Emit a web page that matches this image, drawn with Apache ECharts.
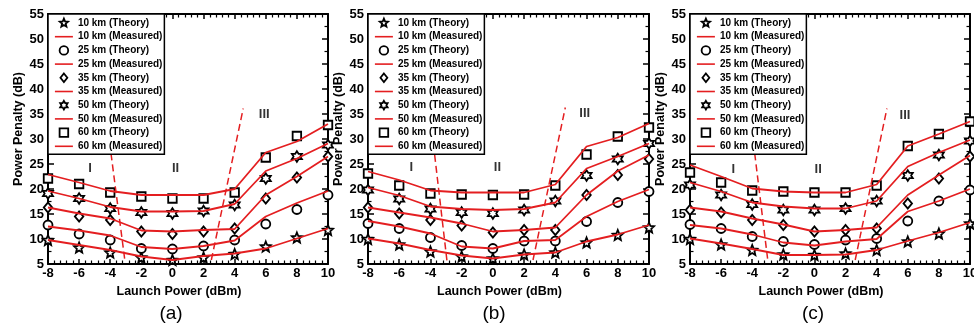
<!DOCTYPE html>
<html><head><meta charset="utf-8">
<script src="https://cdn.jsdelivr.net/npm/echarts@6/dist/echarts.min.js"></script>
<style>html,body{margin:0;padding:0;background:#fff}#c{width:974px;height:325px}</style>
</head><body><div id="c"></div>
<script>
// ---------- data ----------
const launchPower = [-8, -6, -4, -2, 0, 2, 4, 6, 8, 10];
const distances = ['10 km', '25 km', '35 km', '50 km', '60 km'];
const panelTags = ['(a)', '(b)', '(c)'];
const regionNames = ['I', 'II', 'III'];

// panel (a)
const th10a = [9.8, 8.3, 7.3, 6.3, 5.8, 6.3, 7.0, 8.5, 10.3, 11.8];
const ms10a = [9.8, 8.8, 7.8, 6.5, 5.8, 6.6, 7.1, 8.1, 10.1, 12.1];
const th25a = [12.8, 11.0, 9.8, 8.1, 8.0, 8.6, 9.8, 13.0, 15.9, 18.8];
const ms25a = [12.5, 11.7, 10.7, 8.4, 8.0, 8.6, 9.7, 14.5, 17.2, 19.6];
const th35a = [16.3, 14.5, 13.8, 11.5, 11.0, 11.5, 12.1, 18.1, 22.3, 26.5];
const ms35a = [16.3, 15.1, 14.1, 11.7, 11.5, 11.8, 12.0, 18.8, 22.5, 26.5];
const th50a = [19.1, 18.1, 16.1, 15.3, 15.1, 15.6, 16.8, 22.1, 26.5, 28.8];
const ms50a = [19.6, 18.1, 16.4, 15.5, 15.5, 15.6, 17.0, 23.6, 26.1, 29.1];
const th60a = [22.1, 21.0, 19.3, 18.5, 18.1, 18.1, 19.3, 26.3, 30.6, 32.8];
const ms60a = [22.9, 21.3, 19.6, 18.8, 18.8, 18.8, 20.0, 27.3, 29.5, 33.0];
const dashLeftA = [[-3.95, 27.1], [-3.05, 5.5]];
const dashRightA = [[2.5, 5.8], [4.55, 36.1]];
const regionPosA = [[-5.3, 24.1], [0.2, 24.1], [5.9, 34.9]];

// panel (b)
const th10b = [10.0, 8.9, 7.5, 6.5, 6.1, 6.9, 7.3, 9.3, 10.8, 12.3];
const ms10b = [10.1, 9.1, 7.8, 6.7, 6.1, 6.9, 7.3, 9.5, 10.9, 12.8];
const th25b = [13.1, 12.1, 10.3, 8.7, 8.1, 9.6, 9.6, 13.5, 17.3, 19.5];
const ms25b = [13.6, 12.5, 11.1, 8.5, 8.1, 9.6, 9.8, 14.5, 17.5, 19.9];
const th35b = [16.3, 15.1, 13.8, 12.7, 11.3, 11.8, 11.8, 18.8, 22.8, 26.0];
const ms35b = [16.3, 15.3, 14.3, 13.1, 11.5, 11.8, 12.3, 18.8, 23.6, 26.8];
const th50b = [19.8, 18.0, 16.0, 15.3, 15.1, 15.8, 17.6, 22.7, 26.0, 29.1];
const ms50b = [20.3, 18.7, 16.5, 16.0, 15.8, 16.0, 17.3, 24.1, 26.5, 29.1];
const th60b = [23.1, 20.7, 19.1, 18.9, 18.8, 18.9, 20.7, 26.9, 30.5, 32.3];
const ms60b = [23.5, 21.8, 19.7, 19.3, 19.3, 19.3, 20.9, 28.5, 30.3, 33.1];
const dashLeftB = [[-3.73, 26.8], [-2.94, 5.6]];
const dashRightB = [[2.57, 5.8], [4.64, 36.3]];
const regionPosB = [[-5.22, 24.3], [0.29, 24.3], [5.88, 35.1]];

// panel (c)
const th10c = [10.0, 8.9, 7.8, 6.9, 6.8, 7.1, 7.8, 9.5, 11.1, 13.1];
const ms10c = [10.1, 9.1, 8.0, 6.8, 6.8, 6.9, 7.8, 9.6, 11.3, 13.3];
const th25c = [12.9, 12.1, 10.5, 9.5, 8.9, 9.8, 10.1, 13.6, 17.6, 19.8];
const ms25c = [12.8, 12.1, 10.9, 9.3, 8.7, 9.5, 10.0, 15.5, 17.6, 20.0];
const th35c = [15.8, 15.3, 13.8, 12.8, 11.5, 11.8, 12.1, 17.1, 22.1, 26.5];
const ms35c = [16.3, 15.5, 14.1, 12.9, 11.5, 11.8, 12.3, 18.8, 22.8, 26.7];
const th50c = [20.8, 18.8, 16.9, 15.8, 15.8, 16.1, 17.6, 22.7, 26.8, 29.6];
const ms50c = [21.3, 19.5, 17.3, 16.5, 16.1, 16.1, 17.6, 24.5, 27.3, 29.8];
const th60c = [23.3, 21.3, 19.7, 19.5, 19.3, 19.3, 20.7, 28.6, 31.0, 33.5];
const ms60c = [24.8, 22.5, 20.1, 19.5, 19.3, 19.3, 20.9, 28.6, 31.0, 33.5];
const dashLeftC = [[-3.84, 27.1], [-2.99, 5.5]];
const dashRightC = [[2.62, 5.8], [4.66, 36.1]];
const regionPosC = [[-5.22, 24.0], [0.24, 24.0], [5.82, 34.8]];

const panels = [
  { th: [th10a, th25a, th35a, th50a, th60a], ms: [ms10a, ms25a, ms35a, ms50a, ms60a], dl: dashLeftA, dr: dashRightA, rp: regionPosA },
  { th: [th10b, th25b, th35b, th50b, th60b], ms: [ms10b, ms25b, ms35b, ms50b, ms60b], dl: dashLeftB, dr: dashRightB, rp: regionPosB },
  { th: [th10c, th25c, th35c, th50c, th60c], ms: [ms10c, ms25c, ms35c, ms50c, ms60c], dl: dashLeftC, dr: dashRightC, rp: regionPosC }
];

// ---------- styling / layout ----------
const FONT = '"Liberation Sans", Arial, Helvetica, sans-serif';
const RED = '#e41e20';
const grids = [
  { left: 48, top: 14, width: 280, height: 250 },
  { left: 368, top: 14, width: 281, height: 250 },
  { left: 690, top: 14, width: 280, height: 250 }
];
const tagPos = [[171, 314], [494, 314], [813, 314]];

function f(n) { return (+n).toFixed(3); }
function poly(pts) { return pts.map((p, i) => (i ? 'L' : 'M') + f(p[0]) + ',' + f(p[1])).join('') + 'Z'; }
function starPts(n, ratio, cx, cy, R) {
  const pts = [];
  for (let k = 0; k < 2 * n; k++) {
    const a = -Math.PI / 2 + k * Math.PI / n;
    const r = k % 2 ? R * ratio : R;
    pts.push([cx + r * Math.cos(a), cy + r * Math.sin(a)]);
  }
  return pts;
}
function shapePath(kind, cx, cy, R) {
  if (kind === 'star') return poly(starPts(5, 0.45, cx, cy, R));
  if (kind === 'hex') return poly(starPts(6, 0.58, cx, cy, R));
  if (kind === 'diamond') return poly([[cx, cy - R], [cx + R * 0.8, cy], [cx, cy + R], [cx - R * 0.8, cy]]);
  if (kind === 'square') return poly([[cx - R, cy - R], [cx + R, cy - R], [cx + R, cy + R], [cx - R, cy + R]]);
  return 'M' + f(cx - R) + ',' + f(cy) + 'A' + R + ',' + R + ' 0 1,1 ' + f(cx + R) + ',' + f(cy) +
    'A' + R + ',' + R + ' 0 1,1 ' + f(cx - R) + ',' + f(cy) + 'Z';
}
const kinds = ['star', 'circle', 'diamond', 'hex', 'square'];
const symSizes = [[10, 10], [9, 9], [8.5, 10], [10, 10.5], [8.5, 8.5]];

const LW = 18, LH = 9;
const legendData = [];
distances.forEach((d, i) => {
  legendData.push({
    name: d + ' (Theory)',
    icon: 'path://M0,0L0,0M' + LW + ',' + LH + 'L' + LW + ',' + LH + shapePath(kinds[i], LW / 2, LH / 2, 4.3),
    itemStyle: { color: '#fff', borderColor: '#000', borderWidth: 1.8 }
  });
  legendData.push({
    name: d + ' (Measured)',
    icon: 'path://M0,0L0,0M0,3.7L' + LW + ',3.7L' + LW + ',5.3L0,5.3ZM' + LW + ',' + LH + 'L' + LW + ',' + LH,
    itemStyle: { color: RED, borderWidth: 0 }
  });
});

const labelFont = { fontFamily: FONT, fontWeight: 'bold', fontSize: 13, color: '#000' };
const nameFont = { fontFamily: FONT, fontWeight: 'bold', fontSize: 12.5, color: '#000' };
const axisLine = { show: true, onZero: false, lineStyle: { color: '#000', width: 2 } };

function xAxis(g, pos) {
  return {
    type: 'value', gridIndex: g, position: pos, min: -8, max: 10, interval: 2,
    axisLine, axisTick: { show: true, inside: true, length: 5, lineStyle: { color: '#000', width: 1.5 } },
    minorTick: { show: true, splitNumber: 5, length: 3.5, lineStyle: { color: '#000', width: 1.2 } },
    axisLabel: Object.assign({ show: pos === 'bottom', margin: 3 }, labelFont),
    splitLine: { show: false }, minorSplitLine: { show: false },
    name: pos === 'bottom' ? 'Launch Power (dBm)' : '', nameLocation: 'middle', nameGap: 16,
    nameTextStyle: Object.assign({ padding: [0, 18, 0, 0] }, nameFont)
  };
}
function yAxis(g, pos) {
  return {
    type: 'value', gridIndex: g, position: pos, min: 5, max: 55, interval: 5,
    axisLine, axisTick: { show: true, inside: true, length: 6, lineStyle: { color: '#000', width: 1.5 } },
    minorTick: { show: true, splitNumber: 2, length: 3.5, lineStyle: { color: '#000', width: 1.2 } },
    axisLabel: Object.assign({ show: pos === 'left', margin: 4 }, labelFont),
    splitLine: { show: false }, minorSplitLine: { show: false },
    name: pos === 'left' ? 'Power Penalty (dB)' : '', nameLocation: 'middle', nameGap: 23,
    nameTextStyle: Object.assign({ padding: [0, 0, 0, 20] }, nameFont)
  };
}

const xAxes = [], yAxes = [], series = [], legends = [], graphics = [];
panels.forEach((p, g) => {
  xAxes.push(xAxis(g, 'bottom'), xAxis(g, 'top'));
  yAxes.push(yAxis(g, 'left'), yAxis(g, 'right'));
  const xi = 2 * g, yi = 2 * g;
  distances.forEach((d, i) => {
    series.push({
      type: 'scatter', name: d + ' (Theory)', xAxisIndex: xi, yAxisIndex: yi, z: 2,
      symbol: 'path://' + shapePath(kinds[i], 0, 0, 1), symbolSize: symSizes[i],
      itemStyle: { color: '#fff', borderColor: '#000', borderWidth: 1.8, opacity: 1 },
      data: launchPower.map((x, k) => [x, p.th[i][k]])
    });
  });
  distances.forEach((d, i) => {
    series.push({
      type: 'line', name: d + ' (Measured)', xAxisIndex: xi, yAxisIndex: yi, z: 3,
      symbol: 'none', color: RED, lineStyle: { color: RED, width: 1.8 },
      data: launchPower.map((x, k) => [x, p.ms[i][k]])
    });
  });
  [p.dl, p.dr].forEach(seg => {
    series.push({
      type: 'line', xAxisIndex: xi, yAxisIndex: yi, z: 3, symbol: 'none', silent: true,
      lineStyle: { color: RED, width: 1.5, type: [7, 4] }, data: seg
    });
  });
  series.push({
    type: 'scatter', xAxisIndex: xi, yAxisIndex: yi, z: 4, symbolSize: 1, silent: true,
    itemStyle: { color: 'transparent' },
    label: { show: true, position: 'inside', formatter: '{b}', fontFamily: FONT, fontWeight: 'bold', fontSize: 13, color: '#000' },
    data: p.rp.map((pos, k) => ({ name: regionNames[k], value: pos }))
  });
  legends.push({
    orient: 'vertical', left: grids[g].left, top: 14, padding: [3, 2, 2, 6], itemGap: 1.7,
    itemWidth: LW, itemHeight: LH, selectedMode: false, backgroundColor: '#fff',
    borderColor: '#000', borderWidth: 1.5, borderRadius: 0, z: 6,
    textStyle: { fontFamily: FONT, fontWeight: 'bold', fontSize: 10, color: '#000', lineHeight: 12 },
    data: legendData
  });
  graphics.push({
    type: 'text', x: tagPos[g][0], y: tagPos[g][1],
    style: { text: panelTags[g], fontFamily: FONT, fontSize: 19, fill: '#000', textAlign: 'center', textVerticalAlign: 'middle' }
  });
});

const chart = echarts.init(document.getElementById('c'), null, { renderer: 'canvas' });
chart.setOption({
  animation: false,
  backgroundColor: '#fff',
  grid: grids.map(g => Object.assign({ outerBoundsMode: 'none', containLabel: false }, g)),
  xAxis: xAxes,
  yAxis: yAxes,
  legend: legends,
  series,
  graphic: graphics
});
</script></body></html>
